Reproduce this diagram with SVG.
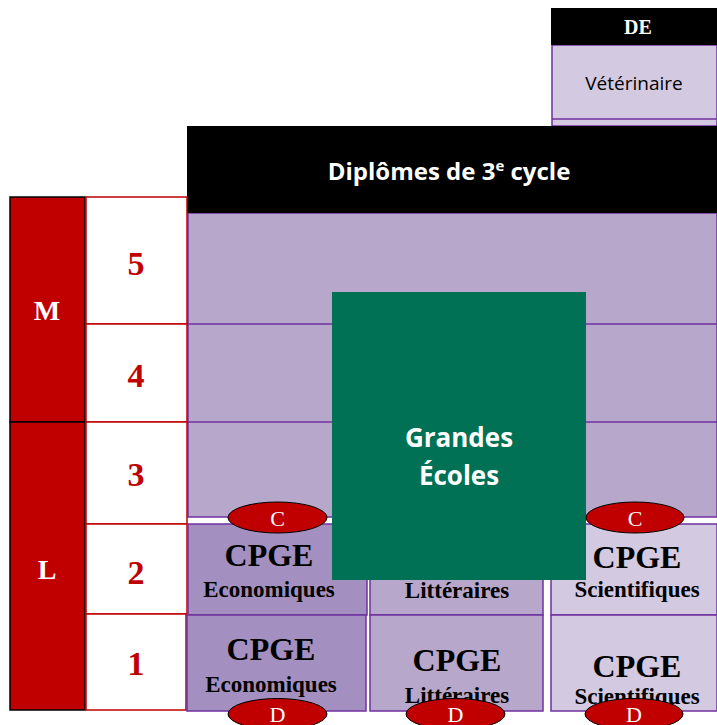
<svg xmlns="http://www.w3.org/2000/svg" width="717" height="725" viewBox="0 0 717 725">
<style>
.serif{font-family:"Liberation Serif","DejaVu Serif",serif;font-weight:bold}
.sans{font-family:"Open Sans","Liberation Sans",sans-serif}
.num{font-size:34px;fill:#c00000;text-anchor:middle}
.cell{fill:#fff;stroke:#c00000;stroke-width:1.5}
.cp{font-size:32px;fill:#000;text-anchor:middle}
.sub{font-size:23px;fill:#000;text-anchor:middle}
.ell{fill:#c00000;stroke:#000;stroke-width:1}
.el{font-family:"Liberation Serif","DejaVu Serif",serif;font-size:22px;fill:#fff;text-anchor:middle}
.pl{stroke:#7030a0;stroke-width:1.5;fill:none}
</style>
<rect width="717" height="725" fill="#fff"/>
<g id="de">
<rect x="552" y="45" width="165" height="81" fill="#d3c9e0" stroke="#7030a0" stroke-width="1.5"/>
<line x1="552" y1="119" x2="717" y2="119" class="pl"/>
<rect x="551" y="8" width="166" height="37" fill="#000"/>
<text x="638" y="34" class="serif" font-size="20" fill="#fff" text-anchor="middle">DE</text>
<text x="634" y="90" class="sans" font-size="19" fill="#000" text-anchor="middle">Vétérinaire</text>
</g>
<g id="masters">
<rect x="188" y="213" width="529" height="304" fill="#b7a7ca" stroke="#7030a0" stroke-width="1.5"/>
<line x1="188" y1="324" x2="717" y2="324" class="pl"/>
<line x1="188" y1="422" x2="717" y2="422" class="pl"/>
</g>
<g id="diplomes">
<rect x="187" y="126" width="530" height="87" fill="#000"/>
<text x="449" y="180" class="sans" font-size="24" font-weight="bold" fill="#fff" text-anchor="middle">Diplômes de 3<tspan font-size="15" dy="-9">e</tspan><tspan dy="9"> cycle</tspan></text>
</g>
<g id="ML">
<rect x="10" y="197" width="75" height="225" fill="#c00000" stroke="#000" stroke-width="1.5"/>
<rect x="10" y="422" width="75" height="288" fill="#c00000" stroke="#000" stroke-width="1.5"/>
<text x="47" y="320" class="serif" font-size="28" fill="#fff" text-anchor="middle">M</text>
<text x="47" y="579" class="serif" font-size="28" fill="#fff" text-anchor="middle">L</text>
</g>
<g id="years">
<rect x="86" y="197" width="101" height="127" class="cell"/>
<rect x="86" y="324" width="101" height="98" class="cell"/>
<rect x="86" y="422" width="101" height="102" class="cell"/>
<rect x="86" y="524" width="101" height="90" class="cell"/>
<rect x="86" y="614" width="100" height="96" class="cell"/>
<text x="136" y="275" class="serif num">5</text>
<text x="136" y="387" class="serif num">4</text>
<text x="136" y="486" class="serif num">3</text>
<text x="136" y="584" class="serif num">2</text>
<text x="136" y="675" class="serif num">1</text>
</g>
<g id="cpge-eco">
<rect x="188" y="524" width="179" height="91" fill="#a390c0" stroke="#7030a0" stroke-width="1.5"/>
<rect x="187" y="615" width="179" height="96" fill="#a390c0" stroke="#7030a0" stroke-width="1.5"/>
<text x="269" y="566" class="serif cp">CPGE</text>
<text x="269" y="597" class="serif sub">Economiques</text>
<text x="271" y="660" class="serif cp">CPGE</text>
<text x="271" y="692" class="serif sub">Economiques</text>
</g>
<g id="cpge-litt">
<rect x="370" y="524" width="173" height="91" fill="#b7a7ca" stroke="#7030a0" stroke-width="1.5"/>
<rect x="370" y="615" width="173" height="96" fill="#b7a7ca" stroke="#7030a0" stroke-width="1.5"/>
<text x="457" y="598" class="serif sub">Littéraires</text>
<text x="457" y="671" class="serif cp">CPGE</text>
<text x="457" y="703" class="serif sub">Littéraires</text>
</g>
<g id="cpge-sci">
<rect x="551" y="524" width="166" height="91" fill="#d3c9e0" stroke="#7030a0" stroke-width="1.5"/>
<rect x="551" y="615" width="166" height="96" fill="#d3c9e0" stroke="#7030a0" stroke-width="1.5"/>
<text x="637" y="568" class="serif cp">CPGE</text>
<text x="637" y="597" class="serif sub">Scientifiques</text>
<text x="637" y="677" class="serif cp">CPGE</text>
<text x="637" y="704" class="serif sub">Scientifiques</text>
</g>
<g id="grandes-ecoles">
<rect x="332" y="292" width="254" height="288" fill="#007155"/>
<text x="459" y="447" class="sans" font-size="26" font-weight="bold" fill="#fff" text-anchor="middle">Grandes</text>
<text x="459" y="485" class="sans" font-size="26" font-weight="bold" fill="#fff" text-anchor="middle">Écoles</text>
</g>
<g id="connectors">
<ellipse cx="277.5" cy="517.5" rx="49.5" ry="15.5" class="ell"/>
<text x="277.5" y="526" class="el">C</text>
<ellipse cx="635" cy="517.5" rx="49" ry="15.5" class="ell"/>
<text x="635" y="526" class="el">C</text>
<ellipse cx="277.5" cy="714" rx="49.5" ry="15.5" class="ell"/>
<text x="277.5" y="722" class="el">D</text>
<ellipse cx="455.5" cy="714" rx="49.5" ry="15.5" class="ell"/>
<text x="455.5" y="722" class="el">D</text>
<ellipse cx="634" cy="714" rx="49" ry="15.5" class="ell"/>
<text x="634" y="722" class="el">D</text>
</g>
</svg>
